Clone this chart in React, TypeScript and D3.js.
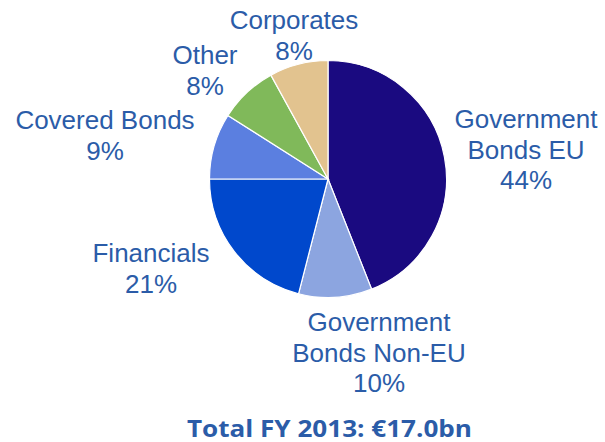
import React from "react";
import * as d3 from "d3";

const categories = [
  ["Government", "Bonds EU"],
  ["Government", "Bonds Non-EU"],
  ["Financials"],
  ["Covered Bonds"],
  ["Other"],
  ["Corporates"],
];
const shares = [44, 10, 21, 9, 8, 8];
const colors = ["#1a0a80", "#8ca5e0", "#0048cc", "#5b7fe0", "#80b95a", "#e2c38f"];
const title = "Total FY 2013: €17.0bn";

// label anchor (center x, first baseline y)
const labelLayout = [
  { x: 526, y: 128 },
  { x: 379, y: 331 },
  { x: 151, y: 262 },
  { x: 105, y: 129 },
  { x: 205, y: 64 },
  { x: 294, y: 29 },
];

const W = 605;
const H = 442;
const cx = 328;
const cy = 179;
const R = 118.5;
const textColor = "#2b5ca8";
const lineH = 30.5;

export default function App() {
  const pie = d3
    .pie<number>()
    .sort(null)
    .value((d) => d);
  const arcs = pie(shares);
  const arcGen = d3.arc<d3.PieArcDatum<number>>().innerRadius(0).outerRadius(R);

  return (
    <svg
      width={W}
      height={H}
      style={{ position: "absolute", left: 0, top: 0, background: "#fff" }}
      fontFamily="'Liberation Sans', Arial, sans-serif"
    >
      <g transform={`translate(${cx},${cy})`}>
        {arcs.map((a, i) => (
          <path key={i} d={arcGen(a) || ""} fill={colors[i]} stroke="#fff" strokeWidth={1.2} />
        ))}
      </g>
      {categories.map((lines, i) => {
        const all = [...lines, `${shares[i]}%`];
        return (
          <text key={i} fill={textColor} fontSize={26} textAnchor="middle">
            {all.map((t, j) => (
              <tspan key={j} x={labelLayout[i].x} y={labelLayout[i].y + j * lineH}>
                {t}
              </tspan>
            ))}
          </text>
        );
      })}
      <text
        x={329.5}
        y={436.5}
        fill={textColor}
        fontSize={24}
        fontWeight="bold"
        textAnchor="middle"
        fontFamily="'Open Sans', sans-serif"
        textLength={285}
        lengthAdjust="spacingAndGlyphs"
      >
        {title}
      </text>
    </svg>
  );
}
